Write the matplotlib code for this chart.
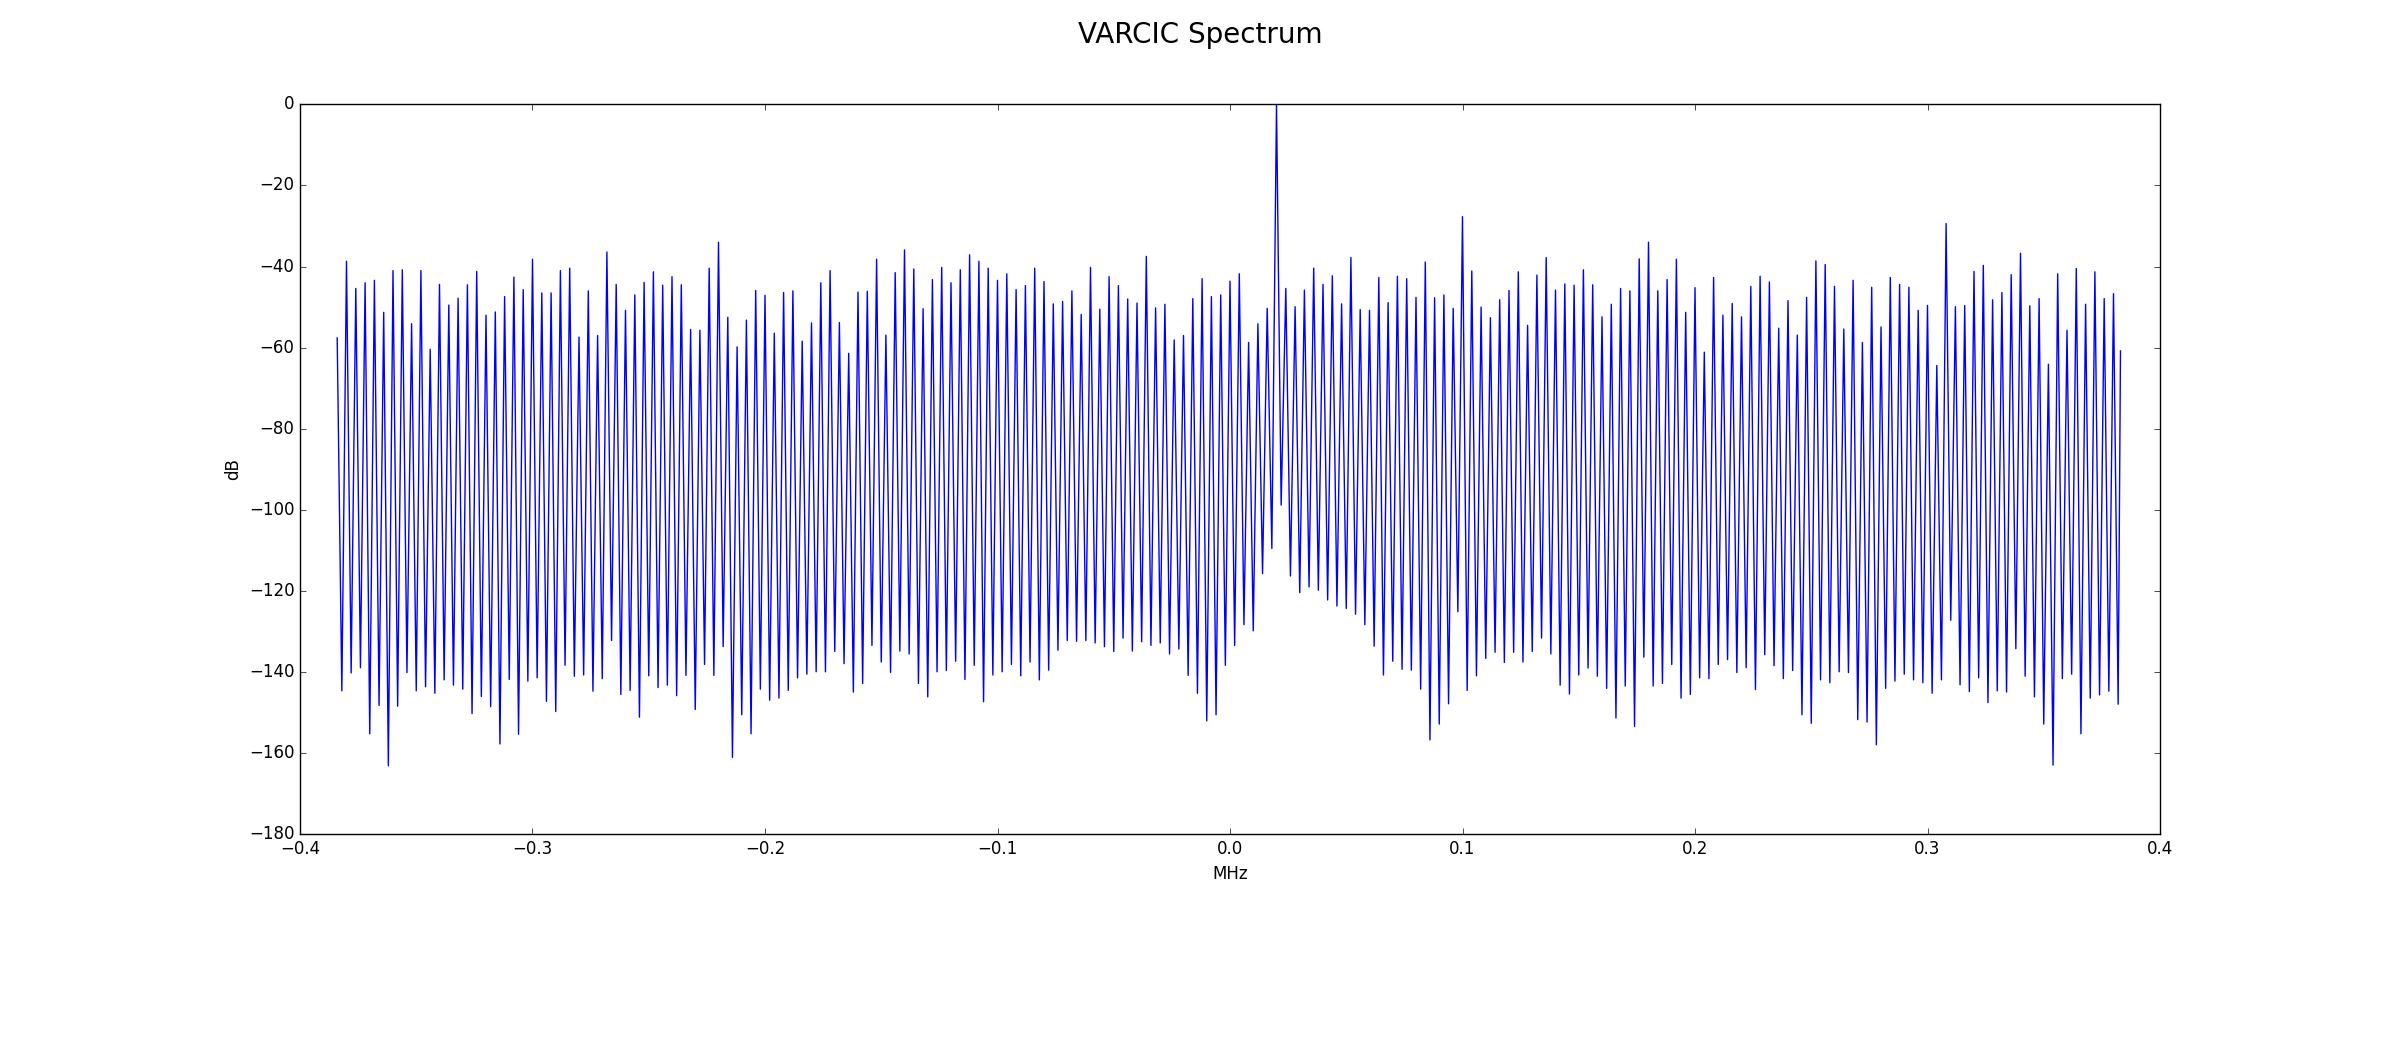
import numpy as np
import matplotlib
matplotlib.use("Agg")
import matplotlib.pyplot as plt

# ---- data ----
# lobe peaks every 4 kHz from -0.38 to 0.38 MHz
peak_mhz = np.linspace(-0.38, 0.38, 191)
peak_db = [
    -38.7, -45.4, -44.0, -43.4, -51.3, -41.0, -40.8, -54.1, -41.0, -60.4,
    -44.4, -49.5, -47.8, -44.5, -41.2, -52.0, -51.2, -47.4, -42.6, -45.7,
    -38.2, -46.5, -46.5, -41.0, -40.4, -57.4, -46.0, -57.0,
    -36.4, -44.4, -50.8, -47.0, -43.9, -41.3, -44.6, -42.5, -44.5, -55.5,
    -55.7, -40.4, -34.0, -52.5, -59.8, -53.2, -45.9, -47.1, -56.4, -46.4,
    -46.0, -58.4, -53.9, -44.0, -41.0, -53.8, -61.4, -46.3,
    -46.1, -38.2, -56.9, -41.5, -35.9, -40.6, -50.4, -43.2, -40.2, -44.0,
    -40.8, -37.1, -38.7, -40.4, -43.4, -41.8, -45.7, -44.7, -40.4, -43.7,
    -49.2, -48.6, -46.0, -51.8, -40.2, -50.5, -42.5, -44.7,
    -48.0, -49.0, -37.5, -50.2, -49.3, -58.1, -57.0, -47.9, -43.0, -47.4,
    -47.0, -43.6, -41.8, -58.7, -54.1, -50.3, 0.0, -45.4, -49.9, -45.8,
    -40.4, -44.4, -42.3, -49.2, -37.8, -50.6, -50.8, -42.7,
    -48.9, -42.4, -43.0, -47.6, -38.9, -47.7, -47.0, -50.3, -27.7, -41.1,
    -50.0, -52.6, -48.2, -45.9, -41.3, -54.5, -42.1, -37.8, -45.8, -44.3,
    -44.6, -40.8, -44.5, -52.4, -49.3, -45.4, -46.0, -38.1,
    -34.0, -46.0, -43.2, -38.2, -51.3, -45.2, -61.1, -42.7, -52.0, -49.1,
    -52.4, -44.9, -42.4, -43.8, -55.2, -48.4, -56.9, -47.6, -38.6, -39.5,
    -44.9, -55.4, -43.4, -58.7, -45.1, -54.9, -42.7, -44.4,
    -45.1, -50.8, -49.6, -64.4, -29.4, -49.9, -49.6, -41.2, -39.7, -48.2,
    -46.4, -42.0, -36.7, -49.7, -47.9, -64.1, -41.8, -55.7, -40.5, -49.3,
    -41.3, -47.9, -46.7,
]
# notches: one before the first peak and one after every peak
trough_db = [
    -144.6,
    -140.2, -138.9, -155.2, -148.2, -163.1, -148.4, -140.1, -144.6, -143.6, -145.2,
    -141.9, -143.2, -144.2, -150.2, -146.0, -148.5, -157.7, -141.8, -155.3, -142.2,
    -141.4, -147.2, -149.7, -138.3, -141.0, -140.7, -144.7, -141.6,
    -132.2, -145.5, -144.5, -151.1, -140.9, -143.8, -143.2, -145.8, -140.8, -149.2,
    -138.1, -140.8, -133.7, -161.0, -150.5, -155.2, -144.2, -146.9, -146.4, -144.5,
    -141.4, -140.5, -139.9, -139.9, -134.9, -137.9, -144.9, -142.8,
    -133.4, -137.5, -140.1, -134.8, -135.5, -142.8, -146.1, -139.9, -139.6, -137.3,
    -141.8, -138.3, -147.3, -140.7, -139.9, -138.1, -140.9, -137.5, -141.9, -139.5,
    -134.6, -132.2, -132.4, -132.2, -132.8, -133.7, -134.9, -131.6,
    -134.8, -132.5, -133.4, -132.8, -135.5, -134.3, -140.8, -145.2, -152.0, -150.5,
    -138.3, -133.4, -128.3, -129.8, -115.7, -109.5, -98.8, -116.3, -120.4, -119.0,
    -119.8, -122.2, -123.7, -124.3, -125.7, -128.3, -133.6, -140.7,
    -137.3, -139.3, -139.5, -144.2, -156.7, -152.8, -147.8, -125.1, -144.5, -140.9,
    -136.6, -135.1, -137.6, -135.1, -137.5, -134.9, -131.6, -135.5, -143.2, -145.4,
    -140.7, -139.0, -141.0, -144.0, -151.3, -143.4, -153.4, -136.3,
    -143.4, -142.8, -138.1, -146.4, -145.5, -141.4, -141.6, -138.1, -136.9, -140.1,
    -138.9, -144.3, -135.7, -138.4, -141.6, -139.6, -150.5, -152.6, -141.9, -142.6,
    -139.9, -140.1, -151.7, -152.3, -157.9, -144.0, -142.2, -140.5,
    -141.9, -142.6, -145.2, -141.9, -127.2, -143.1, -144.8, -141.4, -147.5, -144.6,
    -144.9, -134.2, -141.0, -146.1, -152.8, -162.9, -141.6, -140.5, -155.2, -146.4,
    -145.6, -144.7, -147.9,
]
edge_mhz = [-0.384, 0.383]
edge_db = [-57.6, -60.8]

# ---- assemble the trace: edge, notch, peak, notch, ..., peak, notch, edge ----
step = peak_mhz[1] - peak_mhz[0]
trough_mhz = np.concatenate([[peak_mhz[0] - step / 2], peak_mhz + step / 2])
xs = [edge_mhz[0]]
ys = [edge_db[0]]
xs.append(trough_mhz[0]); ys.append(trough_db[0])
for i in range(len(peak_mhz)):
    xs.append(peak_mhz[i]); ys.append(peak_db[i])
    xs.append(trough_mhz[i + 1]); ys.append(trough_db[i + 1])
xs.append(edge_mhz[1]); ys.append(edge_db[1])

plt.style.use("classic")
plt.rcParams["figure.facecolor"] = "white"
plt.rcParams["savefig.facecolor"] = "white"

fig = plt.figure(figsize=(24, 10.43), dpi=100)
ax = fig.add_subplot(111)
fig.subplots_adjust(left=0.125, right=0.9, top=0.9, bottom=0.2)
ax.plot(xs, ys, color="b", linewidth=1.0)
ax.set_xlim(-0.4, 0.4)
ax.set_ylim(-180, 0)
ax.set_xlabel("MHz")
ax.set_ylabel("dB")
fig.suptitle("VARCIC Spectrum", fontsize=20)
fig.savefig("out.png", dpi=100)
